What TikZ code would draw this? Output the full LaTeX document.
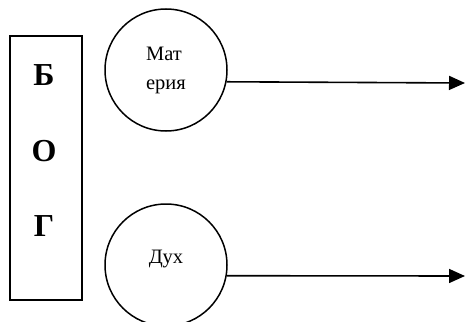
\documentclass[tikz,border=0pt]{standalone}
\usepackage{fontspec}
\setmainfont{Liberation Serif}
\usetikzlibrary{arrows.meta,positioning}

\begin{document}
\begin{tikzpicture}[x=1pt, y=-1pt,
  roundnode/.style={circle, draw, line width=1.5pt, minimum size=122pt, inner sep=0pt, font=\fontsize{20.5}{29}\selectfont},
  letternode/.style={font=\fontsize{32}{32}\selectfont\bfseries, inner sep=0pt},
  arrowline/.style={line width=1.6pt, -{Triangle[length=16pt,width=14pt]}}]
\clip (0,0) rectangle (465,321);
\useasboundingbox (0,0) rectangle (465,321);
% Nodes
\node[draw, line width=1.5pt, minimum width=72pt, minimum height=264pt, inner sep=0pt] (bog) at (46,168) {};
\node[letternode] (b) at (44,75) {Б};
\node[letternode] (o) at (44,151) {О};
\node[letternode] (g) at (44,226) {Г};
\node[roundnode, align=left] (mat) at (166,70) {Мат\\ерия};
\node[roundnode] (dukh) at (166,265) {\raisebox{17pt}{Дух}};
\coordinate (end1) at (465,83);
\coordinate (end2) at (465,276);
\draw[arrowline] (mat.-11) -- (end1);
\draw[arrowline] (dukh.-10) -- (end2);
\end{tikzpicture}
\end{document}
